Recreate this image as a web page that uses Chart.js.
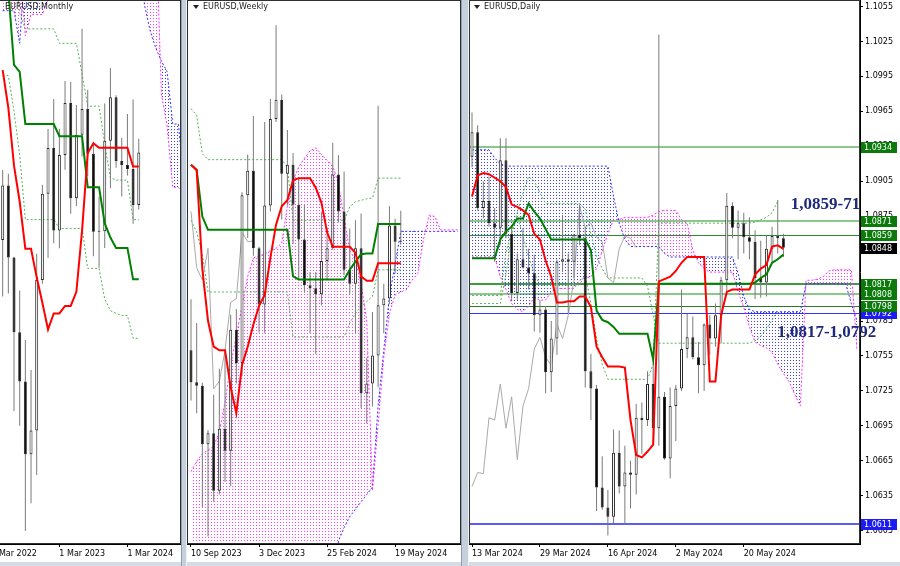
<!DOCTYPE html>
<html>
<head>
<meta charset="utf-8">
<title>EURUSD Ichimoku</title>
<script src="https://cdn.jsdelivr.net/npm/chart.js@4.4.0/dist/chart.umd.min.js"></script>
<style>
  html, body { margin: 0; padding: 0; }
  body { width: 900px; height: 566px; position: relative; overflow: hidden; background: #d6dce5; }
  canvas { position: absolute; top: 0; background: #fff; }
  #monthly { left: -12px; }
  #weekly { left: 187px; }
  #daily { left: 469px; }
  .sep { position: absolute; top: 0; height: 566px; background: #c6d0dd; border-left: 1px solid #8f9db2; border-right: 1px solid #eef2f6; box-sizing: border-box; }
</style>
</head>
<body>
<canvas id="monthly" width="193" height="562"></canvas>
<div class="sep" style="left:181px;width:6px"></div>
<canvas id="weekly" width="274" height="562"></canvas>
<div class="sep" style="left:461px;width:8px"></div>
<canvas id="daily" width="431" height="562"></canvas>
<script>
// ---------- monthly (May 2022 .. May 2024) ----------
const mTickIdx = [-2, 10, 22];
const mTickText = ['1 Mar 2022', '1 Mar 2023', '1 Mar 2024'];
const mOpen  = [1.0544,1.0733,1.0484,1.0225,1.0054,0.9802,0.9884,1.0406,1.0705,1.0863,1.0577,1.0839,1.1019,1.0689,1.0909,1.0998,1.0843,1.0573,1.0575,1.0888,1.1039,1.0818,1.0804,1.0790,1.0666];
const mHigh  = [1.0787,1.0774,1.0486,1.0369,1.0198,1.0094,1.0497,1.0736,1.0929,1.1033,1.0930,1.1095,1.1092,1.1012,1.1276,1.1065,1.0882,1.0695,1.1017,1.1140,1.1046,1.0898,1.0981,1.1031,1.0895];
const mLow   = [1.0349,1.0359,0.9952,0.9901,0.9536,0.9632,0.9730,1.0393,1.0483,1.0533,1.0516,1.0788,1.0635,1.0662,1.0834,1.0766,1.0488,1.0448,1.0517,1.0724,1.0795,1.0695,1.0768,1.0601,1.0650];
const mClose = [1.0733,1.0484,1.0225,1.0054,0.9802,0.9884,1.0406,1.0705,1.0863,1.0577,1.0839,1.1019,1.0689,1.0909,1.0998,1.0843,1.0573,1.0575,1.0888,1.1039,1.0818,1.0804,1.0790,1.0666,1.0848];
const mTenkan = [1.1133,1.1002,1.0802,1.0677,1.0514,1.0514,1.0415,1.0327,1.0234,1.0290,1.0290,1.0316,1.0316,1.0365,1.0577,1.0846,1.0880,1.0864,1.0864,1.0864,1.0864,1.0864,1.0864,1.0799,1.0799];
const mKijun  = [1.1500,1.1410,1.1151,1.1127,1.0946,1.0946,1.0946,1.0946,1.0946,1.0946,1.0904,1.0904,1.0904,1.0904,1.0904,1.0727,1.0727,1.0727,1.0602,1.0553,1.0517,1.0517,1.0517,1.0408,1.0408];
const mDotA   = [1.1114,1.1114,1.0990,1.0840,1.0615,1.0615,1.0615,1.0615,1.0615,1.0615,1.0584,1.0584,1.0584,1.0584,1.0584,1.0446,1.0446,1.0446,1.0340,1.0300,1.0290,1.0283,1.0283,1.0204,1.0204];
const mDotB   = [1.1600,1.1600,1.1500,1.1330,1.1276,1.1276,1.1276,1.1276,1.1276,1.1276,1.1226,1.1226,1.1226,1.1226,1.1120,1.1008,1.1008,1.1008,1.0877,1.0760,1.0752,1.0752,1.0752,1.0615,1.0615];
const mSpanA  = [1.1339,1.1339,1.1339,1.1226,1.1500,1.1500,1.1500,1.1500,1.1500,1.1600,1.1600,1.1600,1.1600,1.1600,1.1600,1.1600,1.1600,1.1600,1.1600,1.1600,1.1600,1.1600,1.1600,1.1600,1.1600,1.1360,1.1270,1.1210,1.1164,1.1127,1.0946,1.0946,1.0727];
const mSpanB  = [1.1500,1.1500,1.1500,1.1500,1.1252,1.1326,1.1326,1.1326,1.1376,1.1700,1.1700,1.1700,1.1700,1.1700,1.1700,1.1700,1.1700,1.1700,1.1700,1.1700,1.1700,1.1700,1.1700,1.1700,1.1700,1.1700,1.1700,1.1650,1.1050,1.0939,1.0727,1.0727,1.0700];

// ---------- weekly (10 Sep 2023 .. 26 May 2024) ----------
const wTickIdx = [0, 12, 24, 36];
const wTickText = ['10 Sep 2023', '3 Dec 2023', '25 Feb 2024', '19 May 2024'];
const wOpen  = [1.0700,1.0657,1.0652,1.0573,1.0588,1.0510,1.0594,1.0564,1.0728,1.0683,1.0910,1.0943,1.0838,1.0762,1.0896,1.1013,1.1039,1.0939,1.0951,1.0897,1.0850,1.0788,1.0784,1.0776,1.0821,1.0838,1.0938,1.0888,1.0809,1.0790,1.0838,1.0642,1.0655,1.0693,1.0761,1.0770,1.0869,1.0847];
const wHigh  = [1.0769,1.0737,1.0656,1.0592,1.0640,1.0675,1.0695,1.0748,1.0756,1.0914,1.0965,1.1017,1.0840,1.1009,1.1040,1.1140,1.1046,1.0998,1.0967,1.0932,1.0897,1.0806,1.0806,1.0888,1.0866,1.0981,1.0964,1.0942,1.0865,1.0876,1.0885,1.0690,1.0752,1.1031,1.0790,1.0895,1.0878,1.0889];
const wLow   = [1.0632,1.0615,1.0488,1.0448,1.0495,1.0505,1.0522,1.0516,1.0655,1.0665,1.0852,1.0828,1.0724,1.0723,1.0888,1.1009,1.0877,1.0896,1.0844,1.0795,1.0778,1.0723,1.0695,1.0761,1.0796,1.0836,1.0873,1.0802,1.0776,1.0723,1.0622,1.0601,1.0624,1.0650,1.0723,1.0763,1.0804,1.0843];
const wClose = [1.0657,1.0652,1.0573,1.0588,1.0510,1.0594,1.0564,1.0728,1.0683,1.0910,1.0943,1.0838,1.0762,1.0896,1.1013,1.1039,1.0939,1.0951,1.0897,1.0850,1.0788,1.0784,1.0776,1.0821,1.0838,1.0938,1.0888,1.0809,1.0790,1.0838,1.0642,1.0655,1.0693,1.0761,1.0770,1.0869,1.0847,1.0848];
const wTenkan = [1.0951,1.0944,1.0810,1.0740,1.0705,1.0700,1.0700,1.0650,1.0615,1.0680,1.0705,1.0735,1.0760,1.0775,1.0825,1.0870,1.0895,1.0903,1.0930,1.0933,1.0933,1.0933,1.0920,1.0900,1.0860,1.0840,1.0840,1.0840,1.0840,1.0832,1.0800,1.0794,1.0794,1.0818,1.0818,1.0818,1.0818,1.0818];
const wKijun  = [1.0951,1.0944,1.0881,1.0863,1.0863,1.0863,1.0863,1.0863,1.0863,1.0863,1.0863,1.0863,1.0863,1.0863,1.0863,1.0863,1.0863,1.0863,1.0800,1.0796,1.0796,1.0796,1.0796,1.0796,1.0796,1.0796,1.0796,1.0796,1.0809,1.0820,1.0830,1.0831,1.0831,1.0871,1.0871,1.0871,1.0871,1.0871];
const wChikou = [1.0888,1.0812,1.0795,1.0838,1.0648,1.0658,1.0700,1.0765,1.0770,1.0860,1.0847,1.0848];
const wDotA   = [1.1027,1.1018,1.0966,1.0958,1.0958,1.0958,1.0958,1.0958,1.0958,1.0958,1.0958,1.0958,1.0958,1.0958,1.0958,1.0958,1.0958,1.0948,1.0876,1.0876,1.0876,1.0876,1.0876,1.0876,1.0876,1.0876,1.0876,1.0876,1.0894,1.0901,1.0903,1.0905,1.0906,1.0933,1.0933,1.0933,1.0933,1.0933];
const wDotB   = [1.0876,1.0860,1.0830,1.0779,1.0779,1.0779,1.0779,1.0779,1.0779,1.0779,1.0779,1.0779,1.0779,1.0779,1.0779,1.0779,1.0779,1.0779,1.0718,1.0718,1.0718,1.0718,1.0718,1.0718,1.0718,1.0718,1.0718,1.0718,1.0737,1.0750,1.0760,1.0766,1.0773,1.0809,1.0809,1.0809,1.0809,1.0809];
const wSpanA  = [1.0350,1.0350,1.0350,1.0350,1.0350,1.0350,1.0350,1.0350,1.0350,1.0350,1.0350,1.0350,1.0350,1.0350,1.0350,1.0350,1.0350,1.0350,1.0350,1.0350,1.0350,1.0350,1.0350,1.0350,1.0350,1.0350,1.0442,1.0460,1.0475,1.0485,1.0495,1.0505,1.0515,1.0625,1.0700,1.0773,1.0817,1.0861,1.0861,1.0861,1.0861,1.0861,1.0861,1.0861,1.0861,1.0861,1.0861,1.0861];
const wSpanB  = [1.0536,1.0550,1.0560,1.0565,1.0570,1.0590,1.0630,1.0680,1.0720,1.0760,1.0800,1.0825,1.0828,1.0830,1.0835,1.0838,1.0845,1.0895,1.0930,1.0948,1.0960,1.0970,1.0974,1.0965,1.0957,1.0950,1.0925,1.0880,1.0835,1.0822,1.0790,1.0740,1.0510,1.0600,1.0690,1.0750,1.0775,1.0779,1.0782,1.0795,1.0804,1.0850,1.0883,1.0881,1.0863,1.0863,1.0863,1.0863];

// ---------- daily (13 Mar 2024 .. 29 May 2024) ----------
const dTickIdx = [0, 12, 24, 36, 48];
const dTickText = ['13 Mar 2024', '29 Mar 2024', '16 Apr 2024', '2 May 2024', '20 May 2024'];
const priceTicks = [1.0605,1.0635,1.0665,1.0695,1.0725,1.0755,1.0785,1.0815,1.0845,1.0875,1.0905,1.0935,1.0965,1.0995,1.1025,1.1055];
const dOpen  = [1.0926,1.0947,1.0882,1.0888,1.0869,1.0865,1.0923,1.0860,1.0809,1.0838,1.0831,1.0826,1.0790,1.0795,1.0741,1.0770,1.0836,1.0838,1.0836,1.0859,1.0856,1.0742,1.0727,1.0642,1.0625,1.0617,1.0672,1.0643,1.0655,1.0653,1.0702,1.0700,1.0731,1.0693,1.0720,1.0667,1.0712,1.0727,1.0761,1.0771,1.0754,1.0747,1.0782,1.0770,1.0790,1.0820,1.0884,1.0865,1.0869,1.0857,1.0853,1.0822,1.0818,1.0847,1.0858,1.0856];
const dHigh  = [1.0964,1.0953,1.0905,1.0909,1.0882,1.0942,1.0942,1.0866,1.0843,1.0865,1.0847,1.0842,1.0803,1.0798,1.0785,1.0838,1.0876,1.0843,1.0860,1.0885,1.0866,1.0757,1.0730,1.0669,1.0640,1.0692,1.0691,1.0678,1.0665,1.0714,1.0715,1.0742,1.0752,1.1031,1.0724,1.0728,1.0730,1.0812,1.0791,1.0789,1.0767,1.0783,1.0790,1.0800,1.0823,1.0895,1.0887,1.0880,1.0878,1.0874,1.0863,1.0854,1.0859,1.0866,1.0889,1.0860];
const dLow   = [1.0917,1.0880,1.0873,1.0866,1.0836,1.0850,1.0856,1.0802,1.0803,1.0830,1.0812,1.0776,1.0775,1.0723,1.0724,1.0756,1.0827,1.0792,1.0822,1.0850,1.0728,1.0700,1.0622,1.0623,1.0601,1.0611,1.0637,1.0610,1.0624,1.0636,1.0671,1.0695,1.0679,1.0678,1.0666,1.0650,1.0682,1.0725,1.0753,1.0752,1.0723,1.0725,1.0756,1.0763,1.0766,1.0807,1.0856,1.0838,1.0843,1.0838,1.0804,1.0805,1.0806,1.0836,1.0843,1.0840];
const dClose = [1.0947,1.0882,1.0888,1.0869,1.0865,1.0923,1.0860,1.0809,1.0838,1.0831,1.0826,1.0790,1.0795,1.0741,1.0770,1.0836,1.0838,1.0836,1.0859,1.0856,1.0742,1.0727,1.0642,1.0625,1.0617,1.0672,1.0643,1.0655,1.0653,1.0702,1.0700,1.0731,1.0693,1.0720,1.0667,1.0712,1.0727,1.0761,1.0771,1.0754,1.0747,1.0782,1.0770,1.0790,1.0820,1.0884,1.0865,1.0869,1.0857,1.0853,1.0822,1.0818,1.0847,1.0858,1.0856,1.0848];
const dTenkan = [1.0892,1.0910,1.0912,1.0911,1.0908,1.0905,1.0900,1.0885,1.0883,1.0880,1.0876,1.0860,1.0855,1.0837,1.0823,1.0801,1.0801,1.0802,1.0802,1.0806,1.0806,1.0797,1.0763,1.0754,1.0746,1.0746,1.0746,1.0745,1.0700,1.0670,1.0668,1.0673,1.0679,1.0819,1.0821,1.0823,1.0828,1.0835,1.0840,1.0840,1.0840,1.0840,1.0733,1.0733,1.0790,1.0810,1.0812,1.0812,1.0812,1.0812,1.0825,1.0830,1.0833,1.0849,1.0850,1.0847];
const dKijun  = [1.0839,1.0839,1.0839,1.0839,1.0839,1.0855,1.0862,1.0866,1.0873,1.0873,1.0886,1.0879,1.0873,1.0864,1.0855,1.0855,1.0855,1.0855,1.0855,1.0855,1.0855,1.0846,1.0794,1.0786,1.0784,1.0780,1.0774,1.0774,1.0774,1.0774,1.0774,1.0774,1.0752,1.0817,1.0817,1.0817,1.0817,1.0817,1.0817,1.0817,1.0817,1.0817,1.0817,1.0817,1.0817,1.0817,1.0817,1.0817,1.0817,1.0817,1.0818,1.0822,1.0825,1.0835,1.0838,1.0842];
const dChikou = [1.0643,1.0655,1.0654,1.0702,1.0700,1.0731,1.0693,1.0720,1.0666,1.0712,1.0727,1.0761,1.0771,1.0754,1.0747,1.0782,1.0770,1.0790,1.0820,1.0884,1.0865,1.0869,1.0857,1.0853,1.0822,1.0818,1.0847,1.0858,1.0856,1.0848];
const dDotA   = [1.0807,1.0807,1.0807,1.0807,1.0807,1.0807,1.0844,1.0862,1.0878,1.0895,1.0909,1.0905,1.0895,1.0886,1.0886,1.0886,1.0886,1.0886,1.0886,1.0886,1.0881,1.0860,1.0840,1.0830,1.0822,1.0822,1.0822,1.0822,1.0822,1.0822,1.0822,1.0815,1.0790,1.0766,1.0766,1.0766,1.0766,1.0766,1.0766,1.0766,1.0766,1.0766,1.0766,1.0766,1.0766,1.0766,1.0766,1.0766,1.0766,1.0766,1.0768,1.0772,1.0778,1.0786,1.0794];
const dDotB   = [1.0800,1.0800,1.0800,1.0800,1.0800,1.0800,1.0825,1.0860,1.0875,1.0858,1.0840,1.0826,1.0816,1.0816,1.0816,1.0816,1.0816,1.0816,1.0816,1.0816,1.0825,1.0800,1.0770,1.0748,1.0735,1.0735,1.0735,1.0735,1.0735,1.0735,1.0735,1.0735,1.0748,1.0869,1.0869,1.0869,1.0869,1.0869,1.0869,1.0869,1.0869,1.0869,1.0869,1.0869,1.0869,1.0869,1.0869,1.0869,1.0869,1.0869,1.0870,1.0872,1.0874,1.0878,1.0888];
const dSpanA  = [1.0932,1.0932,1.0932,1.0932,1.0925,1.0920,1.0918,1.0918,1.0918,1.0918,1.0918,1.0918,1.0918,1.0918,1.0918,1.0918,1.0918,1.0918,1.0918,1.0918,1.0918,1.0918,1.0918,1.0918,1.0918,1.0892,1.0869,1.0855,1.0849,1.0849,1.0849,1.0849,1.0849,1.0849,1.0843,1.0840,1.0840,1.0840,1.0840,1.0840,1.0840,1.0840,1.0840,1.0840,1.0840,1.0840,1.0840,1.0826,1.0806,1.0795,1.0793,1.0793,1.0793,1.0793,1.0793,1.0793,1.0793,1.0793,1.0793,1.0817,1.0817,1.0817,1.0817,1.0817,1.0817,1.0817,1.0817,1.0800,1.0785];
const dSpanB  = [1.0840,1.0840,1.0840,1.0840,1.0840,1.0823,1.0812,1.0800,1.0795,1.0793,1.0798,1.0805,1.0803,1.0803,1.0810,1.0813,1.0813,1.0813,1.0813,1.0820,1.0822,1.0823,1.0830,1.0845,1.0860,1.0872,1.0872,1.0874,1.0874,1.0874,1.0874,1.0874,1.0876,1.0879,1.0880,1.0880,1.0880,1.0872,1.0869,1.0846,1.0835,1.0830,1.0827,1.0827,1.0827,1.0827,1.0827,1.0810,1.0797,1.0780,1.0767,1.0764,1.0762,1.0758,1.0748,1.0740,1.0733,1.0722,1.0712,1.0820,1.0820,1.0821,1.0823,1.0828,1.0829,1.0829,1.0829,1.0829,1.0760];

// horizontal levels and price tags on the daily chart
const levelPrices = [1.0934, 1.0871, 1.0859, 1.0817, 1.0808, 1.0798, 1.0792, 1.0611];
const levelColors = ['#8cc88c', '#8cc88c', '#2a8a2a', '#3f9d3f', '#8cc88c', '#257f25', '#3535ff', '#5a5aff'];
const levelWidths = [2, 2, 1, 2, 2, 1, 1, 2];
const tagPrices = [1.0792, 1.0934, 1.0871, 1.0859, 1.0848, 1.0817, 1.0808, 1.0798, 1.0611];
const tagColors = ['#1c1cf0', '#0b7a0b', '#0b7a0b', '#0b7a0b', '#000000', '#0b7a0b', '#0b7a0b', '#0b7a0b', '#1c1cf0'];
const noteText = ['1,0859-71', '1,0817-1,0792'];
const noteAt = [[56.3, 1.0885], [53.9, 1.0775]];

const FONT = {family: 'DejaVu Sans', size: 8};

function xy(values) {
    return values.map((v, i) => ({x: i, y: v}));
}

function hatch(ctx, color) {
    const tile = document.createElement('canvas');
    tile.width = 3;
    tile.height = 3;
    const t = tile.getContext('2d');
    t.fillStyle = color;
    t.fillRect(0, 0, 1, 1);
    return ctx.createPattern(tile, 'repeat');
}

function lineSet(values, color, width, dash, order) {
    return {
        type: 'line', data: xy(values), borderColor: color, borderWidth: width,
        borderDash: dash, pointRadius: 0, fill: false, tension: 0, order: order
    };
}

function title(ctx, x, text, arrow) {
    ctx.save();
    ctx.fillStyle = '#222';
    if (arrow) {
        ctx.beginPath();
        ctx.moveTo(x - 10, 5);
        ctx.lineTo(x - 4, 5);
        ctx.lineTo(x - 7, 9);
        ctx.fill();
    }
    ctx.font = '8px "DejaVu Sans"';
    ctx.textBaseline = 'middle';
    ctx.fillText(text, x, 7);
    ctx.restore();
}

function drawPanel(id, p, extra) {
    const canvas = document.getElementById(id);
    const ctx = canvas.getContext('2d');
    const datasets = [
        lineSet(p.spanB, '#ff30ff', 1, [2, 2], 9),
        Object.assign(lineSet(p.spanA, '#3030ff', 1, [2, 2], 9), {
            fill: {target: 0, above: hatch(ctx, '#3a3aff'), below: hatch(ctx, '#ff3aff')}
        }),
        lineSet(p.dotA, '#55b055', 1, [2, 2], 5),
        lineSet(p.dotB, '#55b055', 1, [2, 2], 5),
        lineSet(p.chikou, '#a9a9a9', 1, [], 4),
        {
            type: 'bar', data: p.low.map((l, i) => ({x: i, y: [l, p.high[i]]})),
            backgroundColor: '#7a7a7a', barThickness: 1, grouped: false, inflateAmount: 0, order: 3
        },
        {
            type: 'bar', data: p.open.map((o, i) => ({x: i, y: [o, p.close[i]]})),
            backgroundColor: p.open.map((o, i) => p.close[i] >= o ? '#ffffff' : '#000000'),
            borderColor: '#262626', borderWidth: 1, borderSkipped: false, barThickness: 3,
            minBarLength: 1, grouped: false, inflateAmount: 0, order: 2
        },
        lineSet(p.kijun, '#008000', 2, [], 1),
        lineSet(p.tenkan, '#ff0000', 2, [], 0)
    ];
    const frame = {
        id: 'frame',
        afterDraw(chart) {
            const a = chart.chartArea;
            const c = chart.ctx;
            c.save();
            c.strokeStyle = '#303030';
            c.lineWidth = 1;
            c.strokeRect(a.left + 0.5, a.top + 0.5, a.right - a.left - 1, a.bottom - a.top - 1);
            c.restore();
            title(c, p.titleX, p.title, p.arrow);
        }
    };
    return new Chart(canvas, {
        type: 'bar',
        data: {datasets: datasets},
        options: {
            responsive: false,
            animation: false,
            events: [],
            layout: {padding: 0},
            plugins: {legend: {display: false}, tooltip: {enabled: false}},
            scales: {
                x: {
                    type: 'linear', min: p.xMin, max: p.xMax, offset: false,
                    afterBuildTicks: s => { s.ticks = p.tickIdx.map(v => ({value: v})); },
                    afterFit: s => { s.height = 18; s.paddingLeft = 0; s.paddingRight = 0; },
                    ticks: {
                        callback: (v, i) => p.tickText[i], align: 'start', maxRotation: 0,
                        autoSkip: false, padding: 2, color: '#000', font: FONT
                    },
                    grid: {offset: false, drawOnChartArea: false, drawTicks: true, tickLength: 3, color: '#000'},
                    border: {display: true, color: '#000'}
                },
                y: {
                    type: 'linear', min: p.yMin, max: p.yMax, beginAtZero: false,
                    display: p.axis, position: 'right',
                    afterBuildTicks: s => { s.ticks = priceTicks.map(v => ({value: v})); },
                    afterFit: s => {
                        if (!p.axis) return;
                        s.width = 40; s.paddingTop = 0; s.paddingBottom = 0;
                    },
                    ticks: {callback: v => v.toFixed(4), padding: 2, color: '#000', font: FONT},
                    grid: {drawOnChartArea: false, tickLength: 3, color: '#000'},
                    border: {color: '#000'}
                }
            }
        },
        plugins: extra ? [frame, extra] : [frame]
    });
}

const dailyMarks = {
    id: 'dailyMarks',
    beforeDatasetsDraw(chart) {
        const {ctx, chartArea: a, scales: {y}} = chart;
        ctx.save();
        levelPrices.forEach((v, i) => {
            const py = Math.round(y.getPixelForValue(v)) + (levelWidths[i] % 2 ? 0.5 : 0);
            ctx.strokeStyle = levelColors[i];
            ctx.lineWidth = levelWidths[i];
            ctx.beginPath();
            ctx.moveTo(a.left, py);
            ctx.lineTo(a.right, py);
            ctx.stroke();
        });
        ctx.restore();
    },
    afterDraw(chart) {
        const {ctx, chartArea: a, scales: {x, y}} = chart;
        ctx.save();
        ctx.font = '8px "DejaVu Sans"';
        ctx.textBaseline = 'middle';
        tagPrices.forEach((v, i) => {
            const py = Math.round(y.getPixelForValue(v));
            ctx.fillStyle = tagColors[i];
            ctx.fillRect(a.right + 1, py - 5, 36, 11);
            ctx.fillStyle = '#ffffff';
            ctx.fillText(v.toFixed(4), a.right + 4, py + 0.5);
        });
        ctx.font = 'bold 17px "Liberation Serif"';
        ctx.fillStyle = '#1e2a78';
        noteText.forEach((t, i) => {
            ctx.fillText(t, x.getPixelForValue(noteAt[i][0]), y.getPixelForValue(noteAt[i][1]));
        });
        ctx.restore();
    }
};

drawPanel('monthly', {
    open: mOpen, high: mHigh, low: mLow, close: mClose,
    tenkan: mTenkan, kijun: mKijun, chikou: [], dotA: mDotA, dotB: mDotB, spanA: mSpanA, spanB: mSpanB,
    tickIdx: mTickIdx, tickText: mTickText,
    xMin: -2.587, xMax: 31.45, yMin: 0.9491, yMax: 1.1376, axis: false,
    title: 'EURUSD,Monthly', titleX: 17, arrow: false
});

drawPanel('weekly', {
    open: wOpen, high: wHigh, low: wLow, close: wClose,
    tenkan: wTenkan, kijun: wKijun, chikou: wChikou, dotA: wDotA, dotB: wDotB, spanA: wSpanA, spanB: wSpanB,
    tickIdx: wTickIdx, tickText: wTickText,
    xMin: -0.705, xMax: 47.62, yMin: 1.0438, yMax: 1.1174, axis: false,
    title: 'EURUSD,Weekly', titleX: 16, arrow: true
});

drawPanel('daily', {
    open: dOpen, high: dHigh, low: dLow, close: dClose,
    tenkan: dTenkan, kijun: dKijun, chikou: dChikou, dotA: dDotA, dotB: dDotB, spanA: dSpanA, spanB: dSpanB,
    tickIdx: dTickIdx, tickText: dTickText,
    xMin: -0.53, xMax: 68.53, yMin: 1.05936, yMax: 1.10606, axis: true,
    title: 'EURUSD,Daily', titleX: 15, arrow: true
}, dailyMarks);
</script>
</body>
</html>
